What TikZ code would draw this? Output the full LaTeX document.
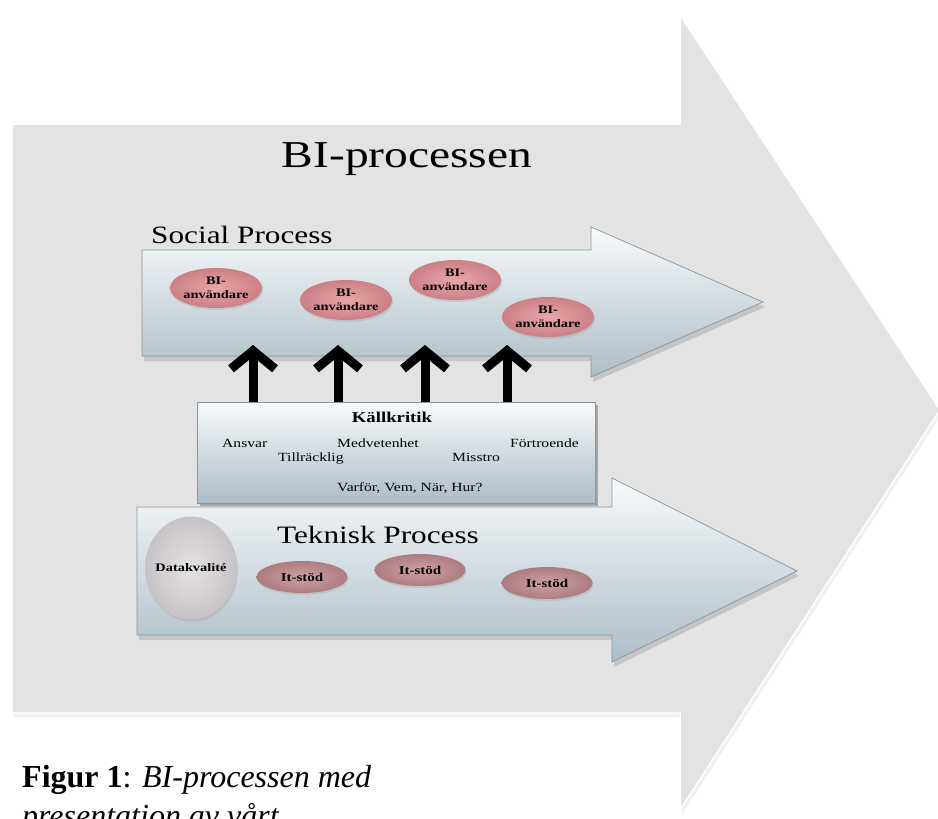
\documentclass[tikz,border=0pt]{standalone}
\usepackage{fontspec}
\setmainfont{Liberation Serif}
\newfontfamily\diafont[FakeStretch=1.25]{Liberation Serif}
\usetikzlibrary{arrows.meta,shapes.geometric,shadows,positioning}

\definecolor{bigGray}{RGB}{227,227,228}
\definecolor{procTop}{RGB}{248,250,251}
\definecolor{procBottom}{RGB}{172,189,199}
\definecolor{procEdge}{RGB}{138,148,154}
\definecolor{userIn}{RGB}{234,166,169}
\definecolor{userOut}{RGB}{204,128,134}
\definecolor{stodIn}{RGB}{208,162,164}
\definecolor{stodOut}{RGB}{172,124,128}
\definecolor{dataIn}{RGB}{230,227,229}
\definecolor{dataOut}{RGB}{198,194,197}

\begin{document}
\begin{tikzpicture}[x=1pt,y=-1pt,
    bigarrow/.style={fill=bigGray,draw=white,line width=1.5pt,
      drop shadow={shadow xshift=2pt,shadow yshift=-4pt,opacity=0.12}},
    procarrow/.style={top color=procTop,bottom color=procBottom,draw=procEdge,line width=0.7pt,
      drop shadow={shadow xshift=2pt,shadow yshift=-5pt,opacity=0.3}},
    critbox/.style={rectangle,minimum width=398pt,minimum height=101pt,
      top color=procTop,bottom color=procBottom,draw=procEdge,line width=0.7pt,
      drop shadow={shadow xshift=3pt,shadow yshift=-3pt,opacity=0.6}},
    biuser/.style={ellipse,minimum width=92pt,minimum height=40pt,inner sep=0pt,
      inner color=userIn,outer color=userOut,align=center,
      font=\diafont\bfseries\fontsize{11.5}{14}\selectfont,
      drop shadow={shadow xshift=1pt,shadow yshift=-2pt,opacity=0.2}},
    itstod/.style={biuser,minimum width=91pt,minimum height=32pt,
      inner color=stodIn,outer color=stodOut,font=\diafont\bfseries\fontsize{12}{14}\selectfont},
    datastyle/.style={biuser,minimum width=92pt,minimum height=103pt,inner xsep=-9pt,
      inner color=dataIn,outer color=dataOut},
    proclabel/.style={font=\diafont\fontsize{25}{28}\selectfont,inner sep=0pt},
    critword/.style={font=\diafont\fontsize{12.5}{14}\selectfont,anchor=base west,inner sep=0pt},
    liftarrow/.style={line width=9pt,-{Straight Barb[length=18pt,width=44pt]}},
    caption/.style={font=\fontsize{32}{39}\selectfont,anchor=base west,inner sep=0pt}
  ]
  \useasboundingbox (0,0) rectangle (938,819);
  \clip (0,0) rectangle (938,819);

  % big arrow in the back
  \path[bigarrow] (12,124) -- (680,124) -- (680,15) -- (940,410) -- (680,810)
    -- (680,713) -- (12,713) -- cycle;
  \node (title) [anchor=base,inner sep=0pt,font=\diafont\fontsize{38}{40}\selectfont]
    at (407,167) {BI-processen};

  % social process
  \path[procarrow] (142,250) -- (591,250) -- (591,227) -- (763,302) -- (591,377)
    -- (591,356) -- (142,356) -- cycle;
  \node (social) [proclabel,anchor=base west] at (151,243) {Social Process};
  \node[biuser] (user1) at (216,288) {BI-\\användare};
  \node[biuser] (user2) at (346,300) {BI-\\användare};
  \node[biuser] (user3) at (455,280) {BI-\\användare};
  \node[biuser] (user4) at (548,317) {BI-\\användare};

  % teknisk process
  \path[procarrow] (137,507) -- (612,507) -- (612,478) -- (797,571) -- (612,662)
    -- (612,635) -- (137,635) -- cycle;
  \node (teknisk) [proclabel,anchor=base] at (378,543) {Teknisk Process};
  \node[datastyle] (data) at (191,568) {Datakvalité};
  \node[itstod] (stod1) at (302,577) {It-stöd};
  \node[itstod] (stod2) at (420,570) {It-stöd};
  \node[itstod] (stod3) at (547,583) {It-stöd};

  % kallkritik
  \node[critbox] (kk) at (396,452.5) {};
  \node (kktitle) [anchor=base,inner sep=0pt,font=\diafont\bfseries\fontsize{15}{17}\selectfont]
    at (392,422) {Källkritik};
  \node[critword] (ansvar) at (222,447) {Ansvar};
  \node[critword] (medvet) at (337,447) {Medvetenhet};
  \node[critword] (fortro) at (510,447) {Förtroende};
  \node[critword] (tillr) at (278,461.5) {Tillräcklig};
  \node[critword] (misstro) at (452,461.5) {Misstro};
  \node[critword] (fragor) at (337,491.5) {Varför, Vem, När, Hur?};

  \foreach \i/\x in {1/253,2/338,3/425,4/507}{
    \coordinate (lift\i) at (\x,345);
    \draw[liftarrow] (kk.north -| lift\i) -- (lift\i);
  }

  \node[caption] (figcap) at (22,787) {\textbf{Figur 1}: \textit{BI-processen med}};
  \node[caption] (figcap2) at (22,826) {\textit{presentation av vårt}};
\end{tikzpicture}
\end{document}
